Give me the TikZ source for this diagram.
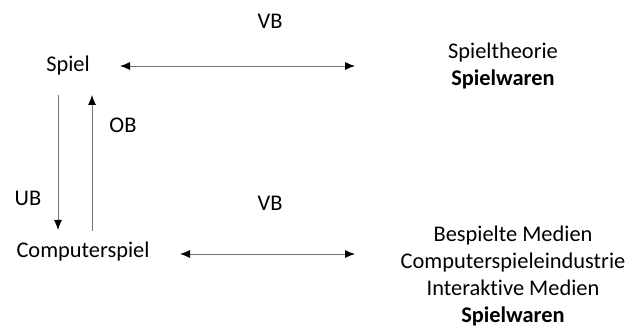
\documentclass[tikz,border=0pt]{standalone}
\usepackage{fontspec}
\setmainfont[Ligatures=NoCommon]{Carlito}
\usetikzlibrary{arrows.meta}
\begin{document}
\begin{tikzpicture}[x=1pt,y=-1pt,
  lbl/.style={inner sep=0pt, font=\fontsize{22.4}{26.7}\selectfont, align=center},
  link/.style={draw=black!55, line width=0.9pt, -{Latex[length=10pt,width=8pt,color=black]}},
  duo/.style={draw=black!55, line width=0.9pt, {Latex[length=10pt,width=8pt,color=black]}-{Latex[length=10pt,width=8pt,color=black]}}]
\useasboundingbox (0,0) rectangle (626,328);
% concepts
\node[lbl] (spiel) at (68,66) {Spiel};
\node[lbl] (cspiel) at (83,252) {Computerspiel};
\node[lbl] (theory) at (503,66) {Spieltheorie\\\textbf{Spielwaren}};
\node[lbl] (media) at (513,276) {Bespielte Medien\\Computerspieleindustrie\\Interaktive Medien\\\textbf{Spielwaren}};
% relation labels
\node[lbl] (vb1) at (270,21) {VB};
\node[lbl] (vb2) at (270,203) {VB};
\node[lbl] (ob) at (123,125) {OB};
\node[lbl] (ub) at (28,198) {UB};
% endpoints of the connectors
\coordinate (t1) at (120,66);
\coordinate (t2) at (355,66);
\coordinate (b1) at (180,254);
\coordinate (b2) at (355,254);
\coordinate (d1) at (58,95);
\coordinate (d2) at (58,230);
\coordinate (u1) at (92,231);
\coordinate (u2) at (92,95);
% connectors
\draw[duo] (t1) -- (t2);
\draw[duo] (b1) -- (b2);
\draw[link] (d1) -- (d2);
\draw[link] (u1) -- (u2);
\end{tikzpicture}
\end{document}
